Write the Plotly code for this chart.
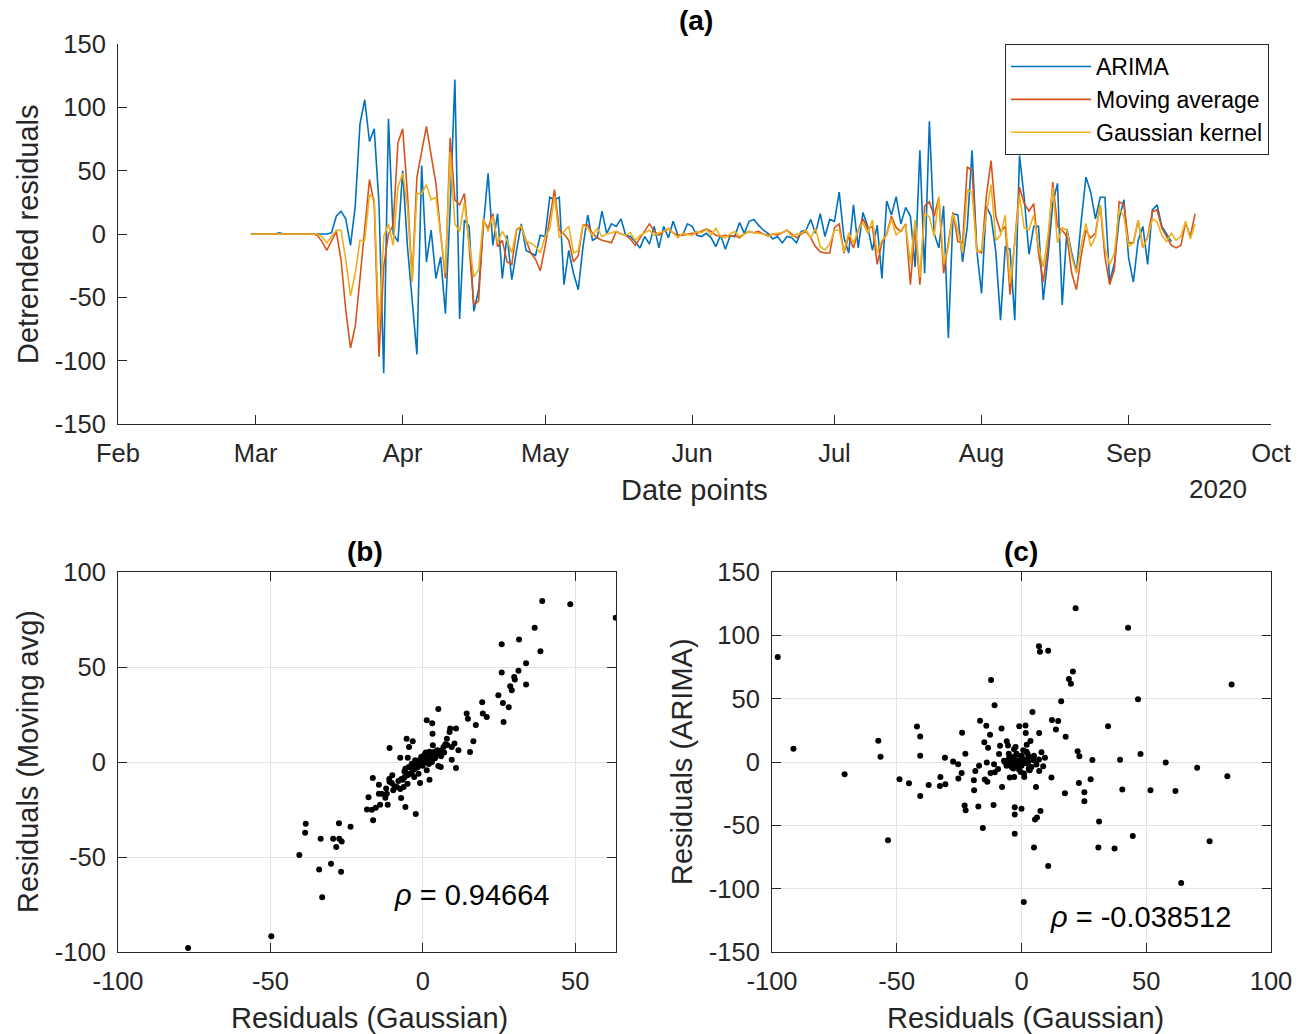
import plotly.graph_objects as go
import pandas as pd

# ---------------- data ----------------
start_date = "2020-02-29"
n_days = 200

arima = [
    0, 0, 0, 0.5, 0, 0, 1, 0, 0, 0,
    0.5, 0, 0, 0, 0, 0, 0, 1, 14, 18,
    12, -9, 22, 87, 106, 73, 83, 24, -110, 91,
    0, -6, 50, -10, -50, -95, 54, -22, 3, -35,
    -18, -63, 20, 122, -67, 11, 6, -61, -44, 6,
    48, -9, 16, -35, -1, -36, -13, 8, -13, -15,
    -17, -1, -2, 29, 27, 29, -40, -13, -31, -44,
    -10, 15, -5, -3, 18, 0.5, 8, 6, 12, -1,
    -2, -6, -11, -2, -8, 6, -11, 6, -3, 10,
    -1, -1, 8, 6, -1, -2, 0.5, -3, -10, -1,
    -12, -1.5, -2, 9, 0.5, 10, 11.5, 7, 3, 0.5,
    -4, -2, -7, -2, -3, -7, 2, 3, 11.5, 0.5,
    16, -2, 11.5, 10, 33, -3, -15, 23, -11, 17,
    6, -13, 7, -35, 26, 15, 29.5, 8, 21, 14,
    -26, 66, -31, 89, 0.5, -11, 22, -82, 16, 15,
    -22, 6, 66, -13, -47, 22, 14, -14, -68, -10,
    -12, -68, 62, 28, -16, 6, 6, -52, -18, 24,
    40, -56, 4, -15, -30, 10, 45, 33, 12, 29,
    29, -38, -23, 12, 27, -19, -38, -5, 6, -24,
    19, 23, 6, 0, -6, None, None, None, None, None,
]

moving_avg = [
    0, 0, 0, 0, 0.5, 0, 0, 0, 0, 0,
    0, 0.5, 0, 0, -1, -6, -13, -6, 2, -20,
    -60, -90, -73, -35, 5, 43, 24, -97, -26, 0,
    7, 72, 83, 32, -36, 45, 65, 85, 62, 40,
    0, -35, 76, 27, 23, 32, -10, -56, -53, 11,
    4.5, 16, -10, -5, -22, -24, 3, 6, -5, -15,
    -20, -29, -10, 11, 35, 3, 0, -5, -22, -17,
    7, 7, 0.5, -3, -5, -6, -7, 2, 0, -1,
    -4, -9, -3, 2, 8, 2, -1, 2, 4, 1,
    -1, -1, 0, 0.5, 0.5, 2, 4, 2, -1, -2,
    -1, -2, -1, -3, 0, 2, 1, 2, 0, -1,
    0, -1, 1, 3, 0, -3, 0, 2, -3, -10,
    -14, -15, -15, 5, 8, -15, -2, -11, 3, 12,
    4, 6, -24, -7, 0, 14, 5, 2, 8, -40,
    6, -40, 22, 25.5, 14, 29, -31, -6, 17, -6,
    -7, 53, 50, -13, -15, 29.5, 58, 14, 2, 6,
    -48, -6, 37, 24, 18, 24, -15, -38, -10, 41,
    6, 3, -2, -31, -44, -17, 3, -3, 0.5, 23,
    -18, -40, -28, 25.5, 23, -7, -7, 11, -11, -2,
    17.6, 19, 4.5, -2, -9, -11, -9, 9, -2, 16,
]

gaussian = [
    0, 0, 0, 0, 0.5, 0, 0, 0, 0, 0,
    0, 0, 0, 0, 0, -2, -7, -2, 3, 3,
    -20, -49, -31, -5, -5, 31, 28, -75, -2, 8,
    -9, 37, 48, 22, -38, 32, 32, 39, 27, 29,
    -2, -31, 65, 8, 2, 25, -7, -34, -28, 12,
    2, 14, -7, 2, -5, -15, 4, 6, -6, -7,
    -10, -15, -2, 4, 30, -3, 2, 6, -15, -13,
    7, 4.5, -1, 4.5, -2, 0, 1, 2, 0, -1,
    1, -5, -1, 1, 3, -1, 1, 2, 4.5, 1,
    -3, 0.5, 0, -1, 2, 1, 3.7, -1, 4.5, -2,
    -3, 0, 2, -2, 0, 2, 1, 0.5, 0, -2,
    0, 0.5, 1, 3, -2, 0, 0.5, 3, -3, 4.5,
    -10, -12.6, -8, 3, 3, -14, 1, -7, 3, 9,
    0.5, 11, -15, -5, -1, 12, -1, 3, 7, -23,
    11, -34, 16, 13.7, -2, 29.5, -23, -10, 16, 3,
    -15, 35, 33, -14, -13, 16, 39, -5, -1, 15,
    -39, -7, 30, 4.5, 3.5, 15, -10, -26, -1, 37,
    -7, 5, 3, -18, -31, -9, 8.4, -10, -2, 23,
    -11, -24.5, -15, 20, 13.7, -10, -7, 11, -11, -3,
    12, 9.5, -1, -6, 0.5, -5, -2, 10, -4, 8,
]

# scatter (b): Gaussian vs Moving average residuals
gauss_b = [-77.0, -49.7, -33.0, -40.5, -34.0, -30.1, -26.8, -38.4, -38.6, -33.5,
           -29.4, -27.5, -27.4, -26.6, -28.4, -23.7, -18.3, -16.7, -16.3, -15.4,
           -17.8, -16.4, -14.4, -14.4, -13.5, -11.8, -12.3, -14.0, -11.5, -10.9,
           -10.9, -10.2, -9.7, -9.3, -8.5, -7.1, -5.7, -2.3, -7.4, -6.3,
           -5.0, -6.6, -5.3, -5.7, -4.6, -3.6, -2.8, -5.3, -3.3, -4.5,
           -7.4, -4.9, -3.6, -2.5, -1.6, -0.9, -1.4, -0.5, 0.2, 0.8,
           1.3, 3.1, 3.2, 3.3, 2.2, 1.9, 1.3, 2.2, 3.0, 3.7,
           5.1, 4.7, 5.1, 5.9, 6.8, 7.4, 7.9, 9.0, 8.8, 9.5,
           10.4, 10.9, 11.7, 9.5, 10.9, 14.4, 14.8, 16.6, 15.5, 17.4,
           19.5, 19.7, 21.0, 24.8, 25.9, 25.9, 26.3, 26.5, 28.2, 28.7,
           29.2, 30.0, 30.2, 31.4, 31.6, 33.9, 33.9, 36.7, 38.6, 39.2,
           48.4, 63.3,
           -9, -8, -7, -6, -6, -5, -4, -4, -3, -3,
           -2, -2, -1, -1, 0, 0, 0, 1, 1, 2,
           2, 3, 3, 4, 4, 5, 6, 6, 7, 8,
           -10, -12, -11, 2, 1]
movavg_b = [-97.9, -91.7, -71.2, -48.9, -56.6, -53.6, -57.8, -32.5, -37.3, -40.4,
            -40.4, -32.3, -40.4, -41.8, -44.8, -34.1, -25.0, -25.1, -30.6, -24.1,
            -18.5, -8.4, -12.0, -16.7, -16.7, -16.7, -18.8, -22.5, -22.5, 7.4,
            -10.4, -11.1, -14.9, -12.7, -13.2, -19.0, -23.7, -27.4, -14.2, -13.2,
            -11.4, -9.3, -6.2, -3.5, -2.6, -6.2, -7.9, 12.3, 10.9, 7.9,
            2.3, 2.3, -0.9, 0.9, -2.6, -11.1, -6.2, 2.6, 0.9, 4.4,
            22.0, 20.4, 14.9, 8.8, 5.4, 1.8, -4.4, -9.3, 2.6, 5.3,
            27.9, 6.2, -2.1, -2.6, 7.9, 9.3, 12.3, 17.6, 15.8, 7.9,
            9.7, 17.6, 6.2, 1.2, -3.2, 25.5, 22.8, 10.9, 5.3, 19.5,
            31.5, 25.5, 23.7, 35.1, 47.1, 62.0, 31.1, 21.1, 28.8, 39.9,
            37.8, 44.8, 43.4, 48.0, 64.5, 52.0, 40.8, 70.7, 58.3, 84.7,
            83.0, 75.9,
            -13, -10, -9, -8, -5, -7, -3, -6, -4, -1,
            -3, 0, -1, 1, -2, 1, 3, 0, 2, 1,
            4, 3, 0, 2, 5, 4, 3, 6, 5, 9,
            -7, -14, -9, -1, 5]

# scatter (c): Gaussian vs ARIMA residuals
gauss_c = [-97.7, -91.4, -70.9, -57.4, -56.5, -53.5, -48.9, -45.1, -41.9, -40.6,
           -40.6, -40.6, -37.2, -32.7, -32.5, -30.7, -30.5, -27.4, -25.4, -25.3,
           -24.0, -23.8, -22.5, -22.8, -22.4, -19.0, -19.1, -18.5, -17.3, -17.0,
           -16.6, -15.5, -14.9, -14.7, -14.1, -13.9, -13.7, -13.4, -12.6, -12.4,
           -12.2, -11.2, -11.0, -10.8, -10.7, -9.4, -9.0, -8.6, -8.0, -7.8,
           -6.7, -5.9, -5.4, -5.1, -4.7, -4.6, -4.0, -3.7, -3.3, -2.9,
           -2.7, -2.7, -2.7, -2.4, -2.0, -1.6, -1.3, -0.9, -0.3, 0.0,
           0.0, 0.4, 0.7, 0.9, 1.1, 1.3, 1.6, 1.7, 2.1, 2.4,
           2.7, 2.9, 3.3, 3.6, 4.4, 4.8, 5.0, 5.4, 5.8, 6.2,
           7.0, 7.4, 7.1, 7.1, 7.6, 8.0, 8.7, 9.4, 10.7, 10.7,
           12.0, 12.2, 13.8, 14.7, 15.9, 17.4, 17.7, 19.0, 19.8, 20.6,
           21.7, 22.5, 23.2, 23.0, 25.2, 25.2, 27.7, 28.4, 30.8, 31.1,
           34.7, 37.3, 39.5, 40.4, 42.7, 44.6, 46.7, 47.7, 51.7, 57.8,
           61.7, 64.0, 70.4, 75.4, 82.5, 84.2,
           -3, -2, -1, 0, 1, 2, 3, -4, -5, 4,
           5, -6, 6, -2, 2, -1, 1, -3, 0, 3, -7, 7]
arima_c = [82.9, 10.5, -9.7, 16.8, 4.2, -61.7, -13.6, -16.8, 28.1, 20.2,
           5.0, -26.8, -18.1, -18.9, -11.8, 3.4, -17.6, 0.3, -1.8, -13.1,
           -8.7, 23.1, 6.6, -34.4, -38.1, -22.3, -14.4, -7.1, -35.2, -2.9,
           32.5, -52.2, 15.5, -13.9, 28.6, -0.3, -15.5, 11.3, 21.5, -8.7,
           64.8, -33.9, -1.8, 44.9, -8.1, -5.5, 6.3, 12.9, 26.5, -19.7,
           0.0, 16.3, 13.1, 6.6, -12.3, 0.3, 3.9, -1.3, -5.2, -11.8,
           -35.7, -41.5, -56.7, 11.8, 6.6, 1.3, -3.4, 28.3, -7.9, -37.0,
           3.9, -1.3, 9.2, -110.5, -11.8, 1.3, 28.9, 22.8, 13.6, 6.6,
           0.0, -5.2, -6.6, 16.5, 39.4, 1.3, -67.5, -45.4, -19.7, -43.8,
           91.3, 87.1, 22.8, -7.1, -38.6, 7.6, -3.4, 3.4, 87.9, -82.2,
           -12.3, 33.1, 25.7, 32.3, 48.0, -24.7, 19.9, 65.6, 61.7, 71.4,
           121.3, 8.4, 4.5, -16.5, -23.9, -31.0, -13.6, 1.6, -67.5, -47.0,
           28.3, -68.2, 1.8, -21.8, 106.0, -58.5, 49.6, 6.3, -22.3, -0.3,
           -22.8, -95.5, -4.5, -62.5, -11.3, 61.2,
           2, -2, 0, -3, 2, -1, 4, -4, 3, -4,
           5, -3, -2, 6, 8, -6, -9, 10, 5, -6, 1, 2]

rho_b = "0.94664"
rho_c = "-0.038512"

month_ticks = ["2020-02-01", "2020-03-01", "2020-04-01", "2020-05-01", "2020-06-01",
               "2020-07-01", "2020-08-01", "2020-09-01", "2020-10-01"]
month_labels = ["Feb", "Mar", "Apr", "May", "Jun", "Jul", "Aug", "Sep", "Oct"]

# ---------------- figure ----------------
W, H = 1312, 1034
FONT = "Liberation Sans, Arial, Helvetica, sans-serif"
AX = "#262626"

def px(x):
    return x / W

def py(y):
    return 1 - y / H

dates = pd.date_range(start_date, periods=n_days, freq="D")

fig = go.Figure()
fig.add_trace(go.Scatter(x=dates, y=arima, mode="lines", name="ARIMA",
                         line=dict(color="#0072BD", width=1.6), xaxis="x", yaxis="y"))
fig.add_trace(go.Scatter(x=dates, y=moving_avg, mode="lines", name="Moving average",
                         line=dict(color="#D95319", width=1.6), xaxis="x", yaxis="y"))
fig.add_trace(go.Scatter(x=dates, y=gaussian, mode="lines", name="Gaussian kernel",
                         line=dict(color="#EDB120", width=1.6), xaxis="x", yaxis="y"))

fig.add_trace(go.Scatter(x=gauss_b, y=movavg_b, mode="markers", showlegend=False,
                         marker=dict(color="black", size=6), xaxis="x2", yaxis="y2"))
fig.add_trace(go.Scatter(x=gauss_c, y=arima_c, mode="markers", showlegend=False,
                         marker=dict(color="black", size=6), xaxis="x3", yaxis="y3"))

def num_labels(vals):
    return [str(v) for v in vals]

common = dict(ticks="inside", ticklen=9, tickwidth=1, tickcolor=AX, showline=True,
              linecolor=AX, linewidth=1, zeroline=False, automargin=False,
              tickfont=dict(family=FONT, size=25.5, color=AX), ticklabelstandoff=6)

yt_a = [-150, -100, -50, 0, 50, 100, 150]
xt_b = [-100, -50, 0, 50]
yt_b = [-100, -50, 0, 50, 100]
xt_c = [-100, -50, 0, 50, 100]
yt_c = [-150, -100, -50, 0, 50, 100, 150]

fig.update_layout(
    template="none",
    width=W, height=H, autosize=False,
    margin=dict(l=0, r=0, t=0, b=0),
    paper_bgcolor="white", plot_bgcolor="white",
    font=dict(family=FONT, color=AX),
    xaxis=dict(domain=[px(118), px(1271)], anchor="y", type="date",
               range=["2020-02-01", "2020-10-01"], tickvals=month_ticks, ticktext=month_labels,
               showgrid=False, mirror=False, **common),
    yaxis=dict(domain=[py(424), py(44)], anchor="x", range=[-150, 150],
               tickvals=yt_a, ticktext=num_labels(yt_a), showgrid=False, mirror=False, **common),
    xaxis2=dict(domain=[px(118), px(616)], anchor="y2", range=[-100, 63.4],
                tickvals=xt_b, ticktext=num_labels(xt_b), showgrid=True, gridcolor="#e3e3e3",
                mirror="ticks", **common),
    yaxis2=dict(domain=[py(952), py(572)], anchor="x2", range=[-100, 100],
                tickvals=yt_b, ticktext=num_labels(yt_b), showgrid=True, gridcolor="#e3e3e3",
                mirror="ticks", **common),
    xaxis3=dict(domain=[px(772), px(1271)], anchor="y3", range=[-100, 100],
                tickvals=xt_c, ticktext=num_labels(xt_c), showgrid=True, gridcolor="#e3e3e3",
                mirror="ticks", **common),
    yaxis3=dict(domain=[py(952), py(572)], anchor="x3", range=[-150, 150],
                tickvals=yt_c, ticktext=num_labels(yt_c), showgrid=True, gridcolor="#e3e3e3",
                mirror="ticks", **common),
    legend=dict(x=px(1269), y=py(44), xanchor="right", yanchor="top",
                bgcolor="white", bordercolor=AX, borderwidth=1,
                font=dict(family=FONT, size=23, color="black"),
                itemwidth=80, tracegroupgap=0),
)

def ann(text, x, y, size=29, angle=0, bold=False, color="black"):
    fig.add_annotation(text=("<b>%s</b>" % text) if bold else text,
                       x=px(x), y=py(y), xref="paper", yref="paper",
                       xanchor="center", yanchor="middle", showarrow=False,
                       textangle=angle, font=dict(family=FONT, size=size, color=color))

ann("(a)", 696, 21, size=28, bold=True)
ann("(b)", 365, 551, size=28, bold=True)
ann("(c)", 1021, 551, size=28, bold=True)
ann("Detrended residuals", 28, 234, angle=-90, color=AX)
ann("Date points", 694, 490, color=AX)
ann("2020", 1218, 489, size=26, color=AX)
ann("Residuals (Moving avg)", 28, 762, angle=-90, color=AX)
ann("Residuals (Gaussian)", 370, 1018, color=AX)
ann("Residuals (ARIMA)", 682, 762, angle=-90, color=AX)
ann("Residuals (Gaussian)", 1025, 1018, color=AX)

fig.add_annotation(text="<i>ρ</i> = " + rho_b, x=-10, y=-70, xref="x2", yref="y2",
                   xanchor="left", yanchor="middle", showarrow=False,
                   font=dict(family=FONT, size=29, color="black"))
fig.add_annotation(text="<i>ρ</i> = " + rho_c, x=10.5, y=-122, xref="x3", yref="y3",
                   xanchor="left", yanchor="middle", showarrow=False,
                   font=dict(family=FONT, size=29, color="black"))

fig.write_html("out.html", config={"displayModeBar": False},
               post_script="document.body.style.margin='0';document.body.style.overflow='hidden';")
